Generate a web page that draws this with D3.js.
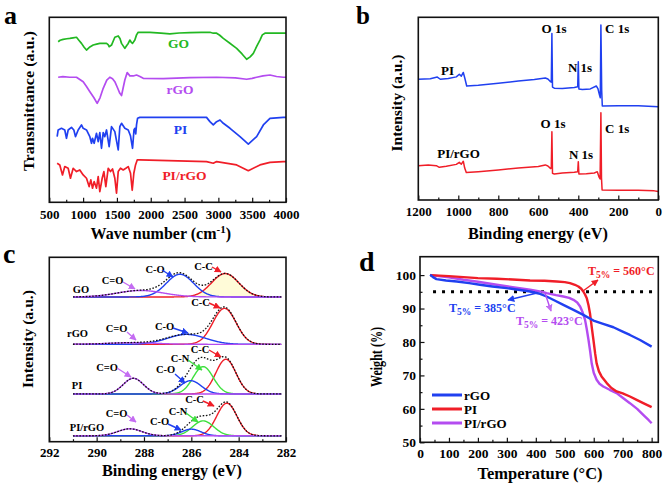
<!DOCTYPE html>
<html><head><meta charset="utf-8">
<script src="https://cdn.jsdelivr.net/npm/d3@7"></script>
<style>
body{margin:0;background:#fff}
svg{display:block}
text{font-family:"Liberation Serif","Times New Roman",serif;font-weight:bold}
</style>
</head><body>
<svg id="fig" width="663" height="486"></svg>
<script>
// ---------- Panel a: FTIR (wave number, transmittance a.u.) ----------
const ftirTicks = [500,1000,1500,2000,2500,3000,3500,4000];
const ftirGO = [[631,86.8],[660,87.6],[705,88.1],[760,88.4],[803,88.6],[850,88.9],[902,89.2],[940,87.5],[976,85.9],[1015,83.8],[1050,82.3],[1100,84],[1149,85.0],[1200,85.5],[1247,85.9],[1300,85.9],[1346,85.9],[1370,85.2],[1385,84.1],[1420,85.0],[1469,89.2],[1519,89.9],[1545,88.5],[1568,85.9],[1617,83.2],[1645,84.8],[1667,85.9],[1691,87.7],[1712,86.5],[1731,85.9],[1765,87.7],[1790,90.5],[1814,91.9],[1987,91.9],[2150,91.4],[2283,91.0],[2420,91.5],[2579,91.7],[2750,91.8],[2875,91.9],[2925,91.4],[2974,91.4],[3020,90.3],[3073,88.6],[3170,86.0],[3270,83.2],[3350,80.2],[3418,77.3],[3470,78.6],[3517,80.5],[3570,84.5],[3615,87.7],[3650,90.5],[3689,91.4],[3800,91.5],[3960,91.4],[4000,91.4]];
const ftirRGO = [[631,67.6],[700,67.9],[803,67.6],[902,67.6],[1001,65.2],[1050,62.6],[1100,59.8],[1160,56.5],[1208,53.5],[1250,56.5],[1297,61.6],[1350,66.0],[1395,67.6],[1435,66.8],[1469,65.2],[1510,61.8],[1543,58.9],[1568,57.7],[1590,61.5],[1617,66.1],[1652,70.1],[1680,68.9],[1691,68.3],[1741,68.3],[1790,68.8],[1840,68.0],[1889,67.0],[2185,66.8],[2579,67.4],[2974,67.6],[3250,67.3],[3418,66.5],[3500,67.0],[3566,67.6],[3660,68.3],[3763,68.8],[3860,68.0],[3960,67.6],[4000,67.6]];
const ftirPI = [[616,35.5],[631,39.1],[680,40.0],[729,39.1],[754,34.6],[779,39.1],[828,40.5],[863,39.1],[887,35.5],[927,39.1],[976,41.8],[1001,40.0],[1050,39.1],[1099,35.5],[1124,31.9],[1139,34.6],[1163,31.9],[1198,37.3],[1223,32.8],[1247,37.7],[1272,29.2],[1297,37.7],[1321,35.5],[1346,39.1],[1385,30.1],[1420,40.9],[1469,38.2],[1519,28.3],[1543,40.9],[1568,42.7],[1617,40.0],[1667,39.1],[1700,36.0],[1731,29.2],[1752,39.1],[1765,40.0],[1778,37.0],[1790,42.0],[1805,45.4],[1839,45.9],[2825,45.9],[2875,43.6],[2925,41.8],[2974,43.6],[3024,44.5],[3073,42.7],[3172,40.0],[3320,35.5],[3443,31.5],[3566,35.5],[3665,41.8],[3763,45.4],[3960,45.9],[4000,45.9]];
const ftirPIrGO = [[616,21.1],[655,20.2],[695,14.8],[729,19.3],[779,18.4],[813,13.0],[853,18.4],[902,16.6],[951,17.5],[1001,14.8],[1050,13.0],[1089,8.5],[1114,12.1],[1139,7.6],[1163,11.2],[1198,7.6],[1223,13.9],[1247,5.8],[1282,13.0],[1307,16.6],[1336,8.5],[1371,18.4],[1405,16.6],[1435,18.0],[1469,13.0],[1494,4.9],[1519,16.6],[1553,18.4],[1593,17.5],[1632,18.4],[1667,19.3],[1701,15.7],[1726,6.5],[1750,15.7],[1775,20.2],[1800,22.9],[1839,22.9],[2825,22.0],[2925,21.1],[2974,22.0],[3270,20.2],[3443,17.1],[3615,20.2],[3763,21.6],[3960,22.0],[4000,22.0]];
const ftirNames = ["GO","rGO","PI","PI/rGO"];

// ---------- Panel b: XPS survey (binding energy eV, intensity a.u.) ----------
const xpsTicks = [1200,1000,800,600,400,200,0];
const xpsPI = [[1200,66.1],[1140,66.4],[1105,67.3],[1090,66.1],[1050,66.5],[1010,67.4],[995,68.8],[985,67.8],[975,69.8],[967,66.5],[958,62.4],[900,62.8],[800,63.9],[700,65.1],[620,66.0],[565,66.8],[552,66.2],[540,64.8],[535,64.5],[532,91.2],[529,61.8],[520,61.2],[480,61.0],[420,61.6],[403,62.0],[400,75.7],[397,60.8],[380,60.5],[340,60.8],[310,62.4],[302,61.0],[294,57.5],[290,56.0],[287,95.8],[283,60.0],[280,51.5],[200,51.6],[100,51.6],[0,51.1]];
const xpsPIrGO = [[1200,18.8],[1150,19.2],[1110,18.8],[1095,17.9],[1060,18.5],[1010,19.5],[995,20.6],[985,19.6],[975,21.2],[968,17.5],[960,15.0],[900,15.5],[800,16.4],[700,17.5],[600,18.3],[565,19.2],[552,18.6],[538,17.2],[535,17.5],[532,37.4],[529,14.6],[520,14.2],[480,14.8],[420,15.2],[403,15.5],[400,21.0],[397,14.2],[360,14.4],[320,14.8],[305,15.5],[296,12.5],[291,11.5],[287,47.8],[284,12.0],[281,5.5],[200,5.3],[100,5.3],[20,5.0],[0,4.6]];

// ---------- Panel c: C 1s fits (peak parameters) ----------
const c1sTicks = [292,290,288,286,284,282];
const c1sSamples = ["GO","rGO","PI","PI/rGO"];
const c1sBaselines = [78.5, 52.8, 25.9, 3.2];
const c1sComponents = ["C=O","C-O","C-N","C-C"];
const c1sCenter = [[288.15,286.48,null,284.57],[288.5,286.2,null,284.6],[288.45,286.03,285.5,284.54],[288.6,286.0,285.5,284.5]];
const c1sHeight = [[3.5,12.3,null,12.7],[0.9,5.4,null,19.5],[8.5,7.2,14.8,18.8],[3.8,3.6,8.1,17.7]];
const c1sFWHM = [[2.3,1.35,null,1.35],[2.4,1.9,null,1.15],[1.0,1.05,1.0,1.0],[1.2,0.95,1.05,1.0]];

// ---------- Panel d: TGA (temperature °C, weight %) ----------
const tgaXTicks = [0,100,200,300,400,500,600,700,800];
const tgaYTicks = [50,60,70,80,90,100];
const tgaRGO = [[35,100.1],[45,99.4],[57,98.8],[90,98.4],[127,98.1],[170,97.6],[207,97.1],[250,96.6],[299,96.1],[340,95.6],[380,95.1],[410,94.5],[437,93.6],[465,92.4],[495,91.1],[530,89.6],[564,88.1],[599,86.4],[630,85.5],[668,84.4],[700,83.1],[725,82.1],[760,80.6],[800,78.6]];
const tgaPI = [[35,100],[100,99.7],[150,99.4],[200,99.1],[265,98.9],[320,98.7],[380,98.4],[430,98.3],[472,98.1],[500,97.9],[518,97.6],[535,97.1],[547,96.6],[557,95.9],[564,95.1],[570,94.2],[576,93.1],[582,91.0],[587,88.6],[593,84.5],[599,80.6],[605,76.5],[610,73.6],[618,71.2],[627,69.7],[645,67.7],[660,66.3],[679,65.2],[700,64.6],[725,63.7],[750,62.6],[771,61.7],[800,60.5]];
const tgaPIrGO = [[35,100],[100,99.3],[150,98.6],[200,98.0],[265,97.1],[320,96.4],[380,95.6],[423,95.0],[437,94.6],[470,94.0],[495,93.6],[515,93.2],[530,92.6],[543,91.8],[553,90.6],[562,88.8],[570,86.6],[576,83.8],[582,80.6],[588,77.0],[593,73.6],[600,70.8],[610,68.7],[620,67.5],[633,66.7],[655,65.7],[679,64.7],[700,63.3],[725,61.7],[750,60.0],[771,58.2],[790,56.6],[800,55.7]];
const tgaNames = ["rGO","PI","PI/rGO"];
const t5Values = [560, 385, 423];
const t5Level = [95];

// ================= drawing =================
const svg = d3.select("#fig");
const FONT = "'Liberation Serif','Times New Roman',serif";
const COL = {green:"#22b822", purple:"#b44cf0", blue:"#2040f0", red:"#f01e28", lime:"#3ee03e", lpurple:"#c46cf2"};

const defs = svg.append("defs");
function marker(id, color){
  defs.append("marker").attr("id",id).attr("viewBox","0 0 10 10").attr("refX",9).attr("refY",5)
    .attr("markerWidth",5).attr("markerHeight",5).attr("orient","auto-start-reverse")
    .append("path").attr("d","M0,0 L10,5 L0,10 Z").attr("fill",color);
}
marker("mR",COL.red); marker("mB",COL.blue); marker("mP",COL.lpurple); marker("mG",COL.lime);

function frame(x0,y0,x1,y1){
  svg.append("rect").attr("x",x0).attr("y",y0).attr("width",x1-x0).attr("height",y1-y0)
    .attr("fill","none").attr("stroke","#111").attr("stroke-width",1.6);
}
function text(x,y,str,opt={}){
  const t = svg.append("text").attr("x",x).attr("y",y).text(str)
    .attr("font-size",opt.fs||13).attr("fill",opt.color||"#000")
    .attr("text-anchor",opt.anchor||"middle");
  if(opt.len) t.attr("textLength",opt.len).attr("lengthAdjust","spacingAndGlyphs");
  return t;
}
function vtext(x,y,str,fs,len){
  const t = svg.append("text").attr("transform",`translate(${x},${y}) rotate(-90)`)
    .attr("text-anchor","middle").attr("font-size",fs).text(str);
  if(len) t.attr("textLength",len).attr("lengthAdjust","spacingAndGlyphs");
  return t;
}
function bottomAxis(scale, y, major, minor, pad, fs){
  const gm = svg.append("g").attr("transform",`translate(0,${y})`)
    .call(d3.axisBottom(scale).tickValues(minor).tickSizeInner(-2.5).tickSizeOuter(0).tickFormat(""));
  gm.select(".domain").remove();
  gm.selectAll("line").attr("stroke","#111").attr("stroke-width",1.2);
  const g = svg.append("g").attr("transform",`translate(0,${y})`)
    .call(d3.axisBottom(scale).tickValues(major).tickSizeInner(-4.5).tickSizeOuter(0).tickPadding(pad).tickFormat(d3.format("d")));
  g.select(".domain").remove();
  g.selectAll("line").attr("stroke","#111").attr("stroke-width",1.2);
  g.selectAll("text").attr("font-family",FONT).attr("font-weight","bold").attr("font-size",fs).attr("fill","#000");
}
function leftAxis(scale, x, major, minor, pad, fs){
  const gm = svg.append("g").attr("transform",`translate(${x},0)`)
    .call(d3.axisLeft(scale).tickValues(minor).tickSizeInner(-2.5).tickSizeOuter(0).tickFormat(""));
  gm.select(".domain").remove();
  gm.selectAll("line").attr("stroke","#111").attr("stroke-width",1.2);
  const g = svg.append("g").attr("transform",`translate(${x},0)`)
    .call(d3.axisLeft(scale).tickValues(major).tickSizeInner(-4.5).tickSizeOuter(0).tickPadding(pad).tickFormat(d3.format("d")));
  g.select(".domain").remove();
  g.selectAll("line").attr("stroke","#111").attr("stroke-width",1.2);
  g.selectAll("text").attr("font-family",FONT).attr("font-weight","bold").attr("font-size",fs).attr("fill","#000");
}
function arrow(x1,y1,x2,y2,color,mid){
  svg.append("line").attr("x1",x1).attr("y1",y1).attr("x2",x2).attr("y2",y2)
    .attr("stroke",color).attr("stroke-width",1.4).attr("marker-end",`url(#${mid})`);
}

// ---------- Panel a ----------
{
  const x = d3.scaleLinear().domain([500,4000]).range([49.3,286]);
  const y = d3.scaleLinear().domain([0,100]).range([202.3,17.3]);
  const line = d3.line().x(d=>x(d[0])).y(d=>y(d[1]));
  const series = [ftirGO, ftirRGO, ftirPI, ftirPIrGO];
  const cols = [COL.green, COL.purple, COL.blue, COL.red];
  series.forEach((s,i)=>{
    svg.append("path").datum(s).attr("d",line).attr("fill","none")
      .attr("stroke",cols[i]).attr("stroke-width",1.7).attr("stroke-linejoin","round");
  });
  const lab = [[178.5,48],[180,94],[180.5,134],[184.5,180]];
  ftirNames.forEach((n,i)=>text(lab[i][0],lab[i][1],n,{fs:13.5,color:cols[i]}));
  frame(49.3,17.3,286,202.3);
  bottomAxis(x,202.3,ftirTicks,d3.range(750,4000,500),7.5,13);
  const xt = text(160.8,239,"Wave number (cm",{fs:16});
  xt.append("tspan").attr("font-size",11).attr("dy",-6).text("-1");
  xt.append("tspan").attr("dy",6).text(")");
  vtext(33.5,101,"Transmittance (a.u.)",15,140);
  text(4,24,"a",{fs:26,anchor:"start"});
}

// ---------- Panel b ----------
{
  const x = d3.scaleLinear().domain([1200,0]).range([418.3,658.3]);
  const y = d3.scaleLinear().domain([0,100]).range([200,17.3]);
  const line = d3.line().x(d=>x(d[0])).y(d=>y(d[1]));
  svg.append("path").datum(xpsPI).attr("d",line).attr("fill","none").attr("stroke",COL.blue).attr("stroke-width",1.5).attr("stroke-linejoin","round");
  svg.append("path").datum(xpsPIrGO).attr("d",line).attr("fill","none").attr("stroke",COL.red).attr("stroke-width",1.5).attr("stroke-linejoin","round");
  text(554,33,"O 1s",{fs:13}); text(605,32.5,"C 1s",{fs:13,anchor:"start"});
  text(580,72,"N 1s",{fs:13}); text(447.5,74.5,"PI",{fs:13});
  text(553,128,"O 1s",{fs:13}); text(605,133,"C 1s",{fs:13,anchor:"start"});
  text(581,159,"N 1s",{fs:13}); text(458.5,158,"PI/rGO",{fs:13});
  frame(418.3,17.3,658.3,200);
  bottomAxis(x,200,xpsTicks,d3.range(1100,0,-200),7,13);
  text(538,239,"Binding energy (eV)",{fs:16,len:140});
  vtext(402,103,"Intensity (a.u.)",15.5,97);
  text(356,24,"b",{fs:25,anchor:"start"});
}

// ---------- Panel c ----------
{
  const x = d3.scaleLinear().domain([292,282]).range([49.3,286]);
  const y = d3.scaleLinear().domain([0,100]).range([441.7,257.3]);
  const grid = d3.range(291.0, 282.19, -0.02);
  const gauss = (e,c,h,f)=>{const s=f/2.3548; return h*Math.exp(-((e-c)*(e-c))/(2*s*s));};
  const compCol = [COL.purple, COL.blue, COL.lime, COL.red];
  const drawOrder = [3,2,1,0];
  c1sSamples.forEach((name,si)=>{
    const base = c1sBaselines[si];
    if(si===0){
      const area = d3.area().x(e=>x(e)).y0(y(base)).y1(e=>y(base+gauss(e,c1sCenter[0][3],c1sHeight[0][3],c1sFWHM[0][3])));
      svg.append("path").datum(grid).attr("d",area).attr("fill","#fffbd8");
    }
    drawOrder.forEach(ci=>{
      if(c1sCenter[si][ci]===null) return;
      const l = d3.line().x(e=>x(e)).y(e=>y(base+gauss(e,c1sCenter[si][ci],c1sHeight[si][ci],c1sFWHM[si][ci])));
      svg.append("path").datum(grid).attr("d",l).attr("fill","none").attr("stroke",compCol[ci]).attr("stroke-width",1.4);
    });
    const env = d3.line().x(e=>x(e)).y(e=>{
      let s=base; c1sComponents.forEach((_,ci)=>{ if(c1sCenter[si][ci]!==null) s+=gauss(e,c1sCenter[si][ci],c1sHeight[si][ci],c1sFWHM[si][ci]); });
      return y(s);
    });
    svg.append("path").datum(grid).attr("d",env).attr("fill","none").attr("stroke","#111").attr("stroke-width",1.3).attr("stroke-dasharray","1.6,1.6");
  });
  const sLab = [[81,292.5],[77.5,337],[77,389],[87,431]];
  c1sSamples.forEach((n,i)=>text(sLab[i][0],sLab[i][1],n,{fs:10.5}));
  // component labels + arrows: [text x, text y, arrow x1,y1,x2,y2, component index]
  const ann = [
    [112.5,284,123,282,135,289,0],[155,273,162,270,173,277,1],[203.5,270,212,267,221,272,3],
    [116.5,332,127,332,136,340,0],[164.5,330,173,328,188,333,1],[200.5,306,209,303,220,308,3],
    [107,371,117,368,131,377,0],[165.5,373,175,374,185,383,1],[180,362,188,360,202,370,2],[200,353,209,350,221,357,3],
    [116.5,417,127,415,136,422,0],[159.5,425,168,424,181,430,1],[178,415,186,413,198,422,2],[194.5,403,203,401,214,406,3]
  ];
  const annCol = [COL.lpurple, COL.blue, COL.lime, COL.red];
  const annMk = ["mP","mB","mG","mR"];
  ann.forEach(a=>{
    text(a[0],a[1],c1sComponents[a[6]],{fs:10.5});
    arrow(a[2],a[3],a[4],a[5],annCol[a[6]],annMk[a[6]]);
  });
  frame(49.3,257.3,286,441.7);
  bottomAxis(x,441.7,c1sTicks,d3.range(291,282,-2),6,13);
  text(172,476,"Binding energy (eV)",{fs:16,len:140});
  vtext(33,339,"Intensity (a.u.)",15.5,98);
  text(3,263,"c",{fs:28,anchor:"start"});
}

// ---------- Panel d ----------
{
  const x = d3.scaleLinear().domain([0,823]).range([420,658.3]);
  const y = d3.scaleLinear().domain([50,105.5]).range([442.3,256.7]);
  const line = d3.line().x(d=>x(d[0])).y(d=>y(d[1]));
  svg.append("line").attr("x1",x(45)).attr("x2",x(815)).attr("y1",y(t5Level[0])).attr("y2",y(t5Level[0]))
    .attr("stroke","#000").attr("stroke-width",3).attr("stroke-dasharray","3,6");
  const series = [tgaRGO, tgaPI, tgaPIrGO];
  const cols = [COL.blue, COL.red, COL.purple];
  [2,1,0].forEach(i=>{
    svg.append("path").datum(series[i]).attr("d",line).attr("fill","none")
      .attr("stroke",cols[i]).attr("stroke-width",2.4).attr("stroke-linejoin","round");
  });
  tgaNames.forEach((n,i)=>{
    const yy = 395 + i*14;
    svg.append("line").attr("x1",432).attr("x2",462).attr("y1",yy).attr("y2",yy).attr("stroke",cols[i]).attr("stroke-width",3);
    text(464,yy+4.5,n,{fs:13,anchor:"start"});
  });
  function t5(xp, yp, color, v){
    const t = svg.append("text").attr("x",xp).attr("y",yp).attr("font-size",12).attr("fill",color);
    t.append("tspan").text("T");
    t.append("tspan").attr("font-size",9.5).attr("dy",3).text("5%");
    t.append("tspan").attr("dy",-3).text(` = ${t5Values[v]}\u00B0C`);
  }
  t5(588,275,COL.red,0);
  t5(449,312,COL.blue,1);
  t5(516,325,COL.purple,2);
  arrow(583,291,598,280,COL.red,"mR");
  arrow(537,293,508,300,COL.blue,"mB");
  arrow(545,293,551,311,COL.purple,"mP");
  frame(420,256.7,658.3,442.3);
  bottomAxis(x,442.3,tgaXTicks,d3.range(50,823,100),6,13.5);
  leftAxis(y,420,tgaYTicks,d3.range(55,105,10),4,13.5);
  text(540,479,"Temperature (\u00B0C)",{fs:16,len:125});
  vtext(382,357,"Weight (%)",16,60);
  text(359,271,"d",{fs:28,anchor:"start"});
}
</script>
</body></html>
